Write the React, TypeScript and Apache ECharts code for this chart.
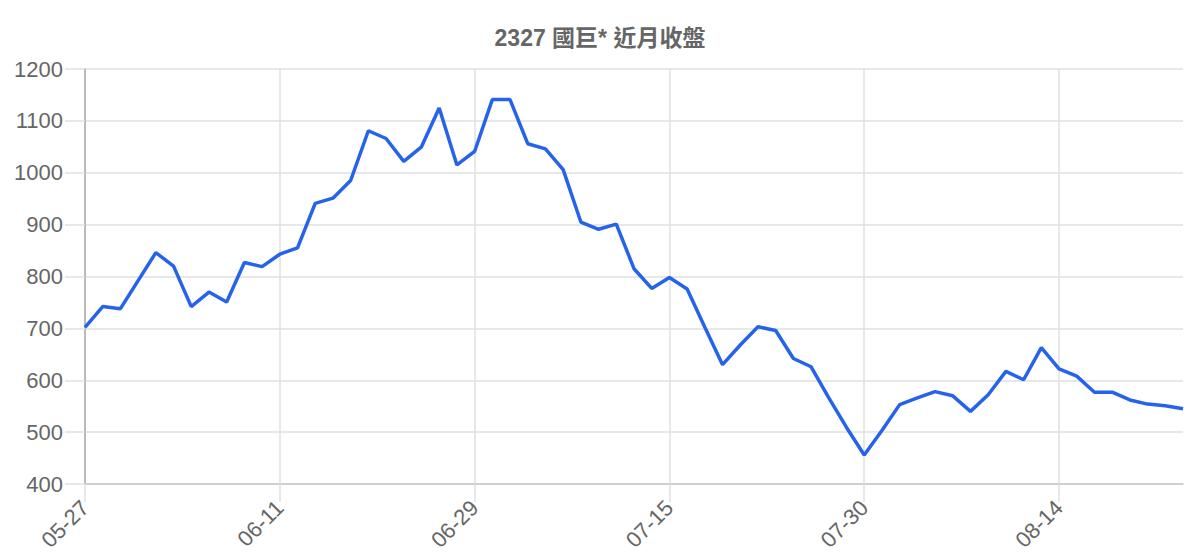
import React, { useEffect, useRef } from "react";
import * as echarts from "echarts";

// trading days shown on the x axis
const dates: string[] = [
  "05-27", "05-28", "05-29", "06-01", "06-02", "06-03", "06-04", "06-05", "06-08", "06-09", "06-10",
  "06-11", "06-12", "06-15", "06-16", "06-17", "06-18", "06-22", "06-23", "06-24", "06-25", "06-26",
  "06-29", "06-30", "07-01", "07-02", "07-03", "07-06", "07-07", "07-08", "07-09", "07-10", "07-13",
  "07-15", "07-16", "07-17", "07-20", "07-21", "07-22", "07-23", "07-24", "07-27", "07-28", "07-29",
  "07-30", "07-31", "08-03", "08-04", "08-05", "08-06", "08-07", "08-10", "08-11", "08-12", "08-13",
  "08-14", "08-17", "08-18", "08-19", "08-20", "08-21", "08-24", "08-25",
];

// closing prices
const closes: number[] = [
  702, 742, 738, 792, 846, 820, 742, 770, 751, 827, 819,
  843, 855, 941, 951, 985, 1081, 1066, 1022, 1050, 1125, 1015,
  1041, 1141, 1141, 1056, 1046, 1006, 905, 891, 901, 815, 777,
  798, 776, 702, 630, 668, 703, 696, 642, 626, 566, 509,
  456, 503, 553, 566, 578, 570, 540, 572, 617, 601, 663,
  622, 608, 577, 577, 562, 554, 551, 545,
];

const FONT = "'Liberation Sans', Arial, 'Noto Sans CJK TC', sans-serif";

const App: React.FC = () => {
  const chartRef = useRef<HTMLDivElement | null>(null);

  useEffect(() => {
    const chartDom = chartRef.current;
    if (!chartDom) return;
    const myChart = echarts.init(chartDom, undefined, { renderer: "svg" });

    const option = {
      animation: false,
      backgroundColor: "#fff",
      title: {
        text: "2327 國巨* 近月收盤",
        left: "center",
        top: 21,
        textStyle: {
          fontSize: 23,
          fontWeight: "bold",
          fontFamily: FONT,
          color: "#666",
        },
      },
      grid: { left: 85, right: 17, top: 69, bottom: 76 },
      xAxis: {
        type: "category",
        data: dates,
        boundaryGap: false,
        axisLine: { lineStyle: { color: "#c8c8c8", width: 1.5 } },
        axisTick: {
          show: true,
          interval: 10,
          length: 18,
          lineStyle: { color: "#e0e0e0", width: 1.5 },
        },
        axisLabel: {
          interval: 10,
          rotate: 45,
          margin: 20,
          fontSize: 22,
          fontFamily: FONT,
          color: "#666",
        },
        splitLine: {
          show: true,
          interval: 10,
          lineStyle: { color: "#e0e0e0", width: 1.5 },
        },
      },
      yAxis: {
        type: "value",
        min: 400,
        max: 1200,
        interval: 100,
        axisLine: { show: true, lineStyle: { color: "#aaa", width: 1.5 } },
        axisTick: {
          show: true,
          length: 20,
          lineStyle: { color: "#e0e0e0", width: 1.5 },
        },
        axisLabel: {
          margin: 22,
          fontSize: 22,
          fontFamily: FONT,
          color: "#666",
          formatter: (v: number) => String(v),
        },
        splitLine: { lineStyle: { color: "#e0e0e0", width: 1.5 } },
      },
      series: [
        {
          type: "line",
          data: closes,
          symbol: "none",
          lineStyle: { color: "#2563eb", width: 3.5 },
        },
      ],
    };

    myChart.setOption(option);

    return () => {
      myChart.dispose();
    };
  }, []);

  return (
    <div
      ref={chartRef}
      style={{ position: "fixed", top: 0, left: 0, width: 1200, height: 560 }}
    />
  );
};

export default App;
